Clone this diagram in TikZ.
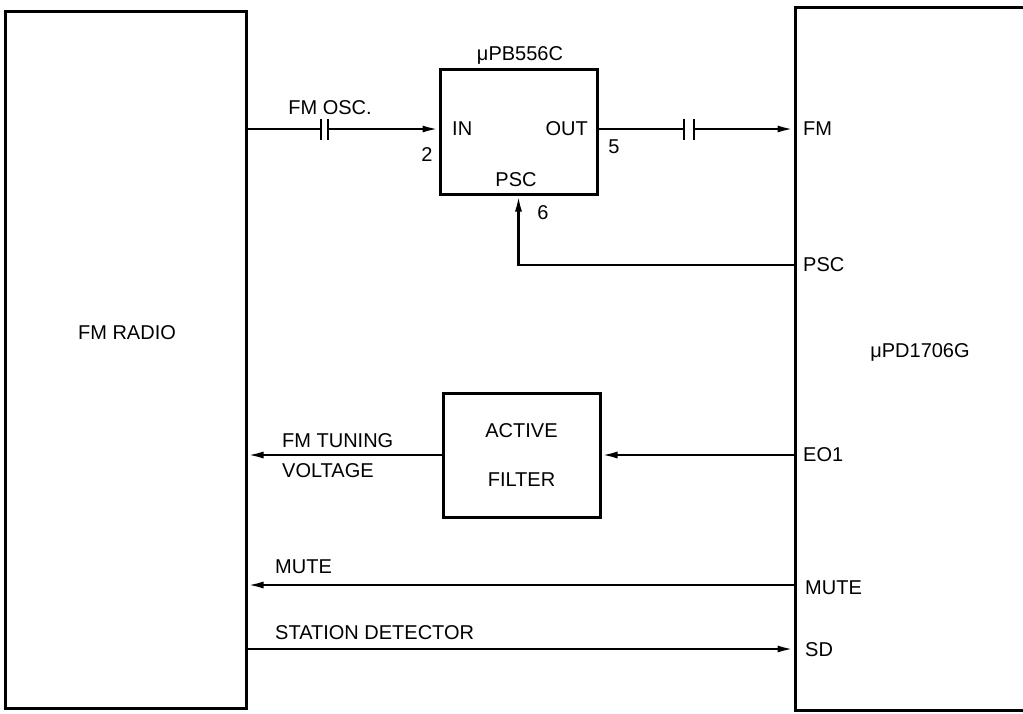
\documentclass[tikz,border=0pt]{standalone}
\usepackage{fontspec}
\setmainfont{Liberation Sans}
\usetikzlibrary{arrows.meta, calc, positioning}
\tikzstyle{blk}   = [draw, line width=3pt, inner sep=0pt]
\tikzstyle{sig}   = [draw, line width=2.4pt]
\tikzstyle{arr}   = [sig, -{Latex[length=16pt, width=7pt]}]
\tikzstyle{plate} = [draw, line width=2.4pt]
\tikzstyle{lbl}   = [inner sep=0pt, font=\fontsize{20}{24}\selectfont]

\begin{document}
\begin{tikzpicture}[x=1pt, y=-1pt]

\useasboundingbox (0,0) rectangle (1023,713);

% blocks
\node [blk, minimum width=241pt, minimum height=697pt] at ( 125.5, 359.5 ) (radio)  {};
\node [blk, minimum width=240pt, minimum height=703pt] at ( 915  , 358.5 ) (pll)    {};
\node [blk, minimum width=157pt, minimum height=125pt] at ( 518.5, 131.5 ) (pre)    {};
\node [blk, minimum width=157pt, minimum height=124pt, align=center, lbl]
                                                       at ( 521.5, 455   ) (filter) {ACTIVE\\[25pt]FILTER};

% pins of the PLL
\coordinate (fm)   at (pll.west |- 0,129);
\coordinate (psc)  at (pll.west |- 0,265);
\coordinate (eo1)  at (pll.west |- 0,455);
\coordinate (mute) at (pll.west |- 0,585);
\coordinate (sd)   at (pll.west |- 0,649);

% capacitors
\coordinate (c1l) at (321,129);
\coordinate (c1r) at (328,129);
\coordinate (c2l) at (684,129);
\coordinate (c2r) at (694,129);

% texts
\node [lbl]            at ( 127  , 333 ) (radiotxt) {FM RADIO};
\node [lbl]            at ( 920  , 352 ) (plltxt)   {μPD1706G};
\node [lbl]            at ( 520  ,  55 ) (pretxt)   {μPB556C};
\node [lbl]            at ( 330  , 108 ) (osctxt)   {FM OSC.};
\node [lbl, anchor=west] at ( 452, 129 ) (intxt)    {IN};
\node [lbl, anchor=east] at ( 588, 129 ) (outtxt)   {OUT};
\node [lbl]            at ( 516  , 180 ) (psctxt)   {PSC};
\node [lbl]            at ( 427  , 155 ) (pin2)     {2};
\node [lbl]            at ( 614  , 147 ) (pin5)     {5};
\node [lbl]            at ( 543  , 213 ) (pin6)     {6};
\node [lbl, anchor=west, align=left] at ( 282, 456 ) (tunetxt) {FM TUNING\\[6pt]VOLTAGE};
\node [lbl, anchor=west] at ( 275, 567 ) (mutetxt)  {MUTE};
\node [lbl, anchor=west] at ( 275, 633 ) (sdtxt)    {STATION DETECTOR};
\node [lbl, anchor=west] at ( 803, 129 ) (fmpin)    {FM};
\node [lbl, anchor=west] at ( 803, 265 ) (pscpin)   {PSC};
\node [lbl, anchor=west] at ( 803, 455 ) (eo1pin)   {EO1};
\node [lbl, anchor=west] at ( 805, 588 ) (mutepin)  {MUTE};
\node [lbl, anchor=west] at ( 805, 650 ) (sdpin)    {SD};

% edges
\draw [sig] (radio.east |- c1l) -- (c1l);
\draw [plate] ($(c1l)+(0,-10)$) -- ($(c1l)+(0,11)$);
\draw [plate] ($(c1r)+(0,-10)$) -- ($(c1r)+(0,11)$);
\draw [arr] (c1r) -- (pre.west |- c1r);

\draw [sig] (pre.east |- c2l) -- (c2l);
\draw [plate] ($(c2l)+(0,-10)$) -- ($(c2l)+(0,11)$);
\draw [plate] ($(c2r)+(0,-10)$) -- ($(c2r)+(0,11)$);
\draw [arr] (c2r) -- (fm);

\draw [arr] (psc) -| (pre.south);
\draw [arr] (eo1) -- (filter.east |- eo1);
\draw [arr] (filter.west |- eo1) -- (radio.east |- eo1);
\draw [arr] (mute) -- (radio.east |- mute);
\draw [arr] (radio.east |- sd) -- (sd);

\end{tikzpicture}
\end{document}
